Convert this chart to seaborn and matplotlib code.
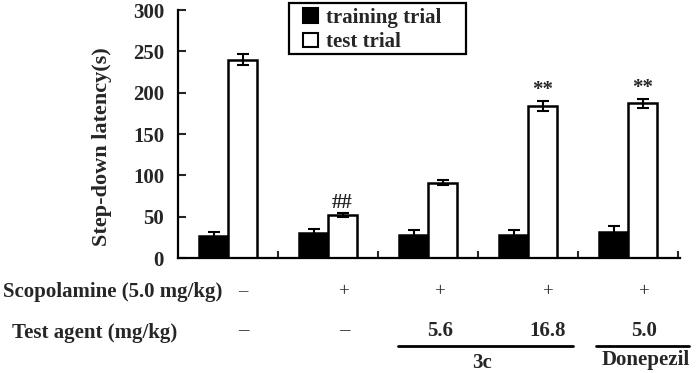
import matplotlib

matplotlib.use("Agg")
import matplotlib.pyplot as plt
import matplotlib.transforms as mtransforms
from matplotlib.patches import Rectangle
import pandas as pd
import seaborn as sns

# data
groups = ["control", "scopolamine", "3c 5.6", "3c 16.8", "donepezil"]
trials = ["training trial", "test trial"]
training_mean = [27, 30, 28, 28, 32]
training_err = [5, 5, 6, 6, 7]
test_mean = [240, 52, 91, 184, 187]
test_err = [7, 2, 3, 6, 5]
marks = ["", "##", "", "**", "**"]

scopolamine_row = ["\u2013", "+", "+", "+", "+"]
agent_row = ["\u2013", "\u2013", "5.6", "16.8", "5.0"]

df = pd.DataFrame(
    {
        "group": groups * 2,
        "trial": [trials[0]] * 5 + [trials[1]] * 5,
        "value": training_mean + test_mean,
        "err": training_err + test_err,
    }
)

sns.set_style("ticks")
plt.rcParams["font.family"] = ["Liberation Serif", "DejaVu Serif"]
plt.rcParams["font.weight"] = "bold"

fig = plt.figure(figsize=(7.0, 3.73), dpi=100)
ax = fig.add_axes([178 / 700, 1 - 258 / 373, 502 / 700, 248 / 373])

sns.barplot(
    data=df,
    x="group",
    y="value",
    hue="trial",
    hue_order=trials,
    order=groups,
    palette=["black", "white"],
    edgecolor="black",
    linewidth=1.8,
    width=0.58,
    errorbar=None,
    ax=ax,
)

# error bars + significance marks
for cont, trial in zip(ax.containers, trials):
    sub = df[df["trial"] == trial].set_index("group").loc[groups]
    xs = [p.get_x() + p.get_width() / 2 for p in cont.patches]
    ax.errorbar(
        xs,
        sub["value"],
        yerr=sub["err"],
        fmt="none",
        ecolor="black",
        elinewidth=1.5,
        capsize=4,
        capthick=1.5,
    )
    if trial == "test trial":
        for x, v, e, m in zip(xs, sub["value"], sub["err"], marks):
            if m:
                ax.text(x, v + e + 1, m, ha="center", va="bottom", fontsize=15)

ax.set_xlim(-0.5, 4.52)
ax.set_ylim(0, 300)
ax.set_yticks([0, 50, 100, 150, 200, 250, 300])
ax.set_xticks([0.5, 1.5, 2.5, 3.5, 4.5])
ax.set_xticklabels([])
ax.tick_params(axis="y", direction="in", length=6, width=1.5, labelsize=15, pad=10)
ax.tick_params(axis="x", direction="in", length=5, width=1.5)
ax.set_xlabel("")
ax.set_ylabel("Step-down latency(s)", fontsize=16, fontweight="bold")
ax.yaxis.set_label_coords(-0.132, 0.45)
sns.despine(ax=ax)
for s in ["left", "bottom"]:
    ax.spines[s].set_linewidth(1.6)
    ax.spines[s].set_color("black")

# legend with a hand-drawn box around it
handles, labels = ax.get_legend_handles_labels()
leg = ax.legend(
    handles,
    labels,
    loc="upper left",
    bbox_to_anchor=(303 / 700, 1 - 8 / 373),
    bbox_transform=fig.transFigure,
    fontsize=15,
    frameon=False,
    handlelength=0.7,
    handleheight=0.7,
    handletextpad=0.4,
    borderpad=0.0,
    borderaxespad=0.0,
    labelspacing=0.2,
)
for h in leg.legend_handles:
    h.set_edgecolor("black")
    h.set_linewidth(1.5)
fig.patches.append(
    Rectangle((289 / 700, 1 - 54 / 373), 177 / 700, 51 / 373,
              transform=fig.transFigure, fill=False, edgecolor="black",
              linewidth=1.6)
)

# table under the axis
trans = mtransforms.blended_transform_factory(ax.transData, fig.transFigure)
offsets = [0.15, 0.16, 0.12, 0.2, 0.16]
fig.text(0.004, 1 - 292 / 373, "Scopolamine (5.0 mg/kg)", fontsize=15,
         fontweight="bold", va="center", ha="left")
fig.text(0.017, 1 - 333 / 373, "Test agent (mg/kg)", fontsize=15,
         fontweight="bold", va="center", ha="left")
for i, (s, a) in enumerate(zip(scopolamine_row, agent_row)):
    x = i + offsets[i]
    ax.text(x, 1 - 292 / 373, s, transform=trans, ha="center", va="center",
            fontsize=13.5, fontweight="normal")
    ax.text(x, 1 - 331 / 373, a, transform=trans, ha="center", va="center",
            fontsize=15, fontweight="bold" if a[0].isdigit() else "normal")

line_y = 1 - 346 / 373
ax.plot([1.70, 3.45], [line_y, line_y], transform=trans, color="black",
        lw=2, clip_on=False)
ax.plot([3.68, 4.61], [line_y, line_y], transform=trans, color="black",
        lw=2, clip_on=False)
ax.text(2.54, 1 - 363 / 373, "3c", transform=trans, ha="center", va="center",
        fontsize=15, fontweight="bold")
ax.text(4.18, 1 - 360 / 373, "Donepezil", transform=trans, ha="center",
        va="center", fontsize=15, fontweight="bold")

fig.savefig("out.png", dpi=100)
